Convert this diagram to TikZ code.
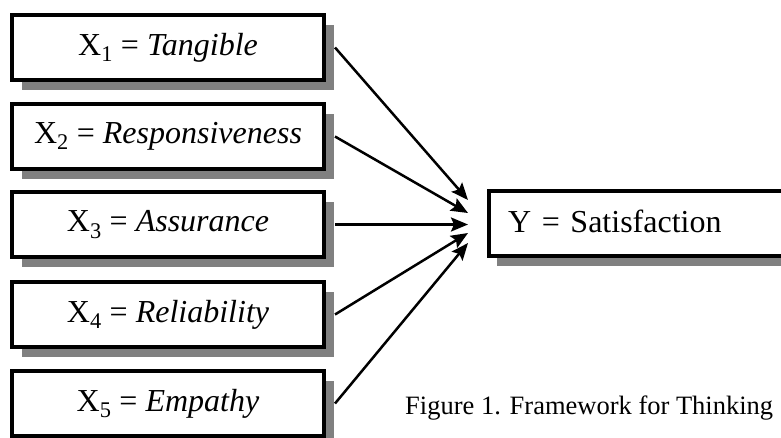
\documentclass[tikz,border=0pt]{standalone}
\usepackage{fontspec}
\setmainfont{Liberation Serif}
\usetikzlibrary{shadows,arrows.meta}
\definecolor{shadowgray}{HTML}{808080}
\begin{document}
\begin{tikzpicture}[x=1pt,y=-1pt,
  xbox/.style={draw=black, line width=4pt, fill=white, minimum width=312pt, minimum height=65pt,
    inner sep=0pt, font=\fontsize{32}{36}\selectfont,
    drop shadow={shadow xshift=10pt, shadow yshift=-10pt, fill=shadowgray, opacity=1}},
  ybox/.style={draw=black, line width=4pt, fill=white, minimum height=65pt, text width=273pt,
    inner xsep=19pt, inner ysep=0pt, align=left, text depth=4pt, font=\fontsize{32}{36}\selectfont,
    drop shadow={shadow xshift=8pt, shadow yshift=-10pt, fill=shadowgray, opacity=1}},
  arr/.style={line width=2.5pt, -{Stealth[length=17pt,width=14pt,inset=3pt]}},
  captext/.style={anchor=base west, inner sep=0pt, font=\fontsize{26.5}{30}\selectfont}]
\useasboundingbox (0,0) rectangle (781,437);
\clip (0,0) rectangle (781,437);
\node[xbox] (x1) at (168,47.5) {X\textsubscript{1} = \textit{Tangible}};
\node[xbox] (x2) at (168,136.5) {X\textsubscript{2} = \textit{Responsiveness}};
\node[xbox] (x3) at (168,224.5) {X\textsubscript{3} = \textit{Assurance}};
\node[xbox] (x4) at (168,314.5) {X\textsubscript{4} = \textit{Reliability}};
\node[xbox] (x5) at (168,403.5) {X\textsubscript{5} = \textit{Empathy}};
\node[ybox] (y) at (644.5,223.5) {Y = Satisfaction};
\coordinate (t1) at ([shift={(-19,-23.5)}]y.west);
\coordinate (t2) at ([shift={(-19,-10.5)}]y.west);
\coordinate (t3) at ([shift={(-19,1)}]y.west);
\coordinate (t4) at ([shift={(-19,9.5)}]y.west);
\coordinate (t5) at ([shift={(-19,19.5)}]y.west);
\draw[arr] ([xshift=9pt]x1.east) -- (t1);
\draw[arr] ([xshift=9pt]x2.east) -- (t2);
\draw[arr] ([xshift=9pt]x3.east) -- (t3);
\draw[arr] ([xshift=9pt]x4.east) -- (t4);
\draw[arr] ([xshift=9pt]x5.east) -- (t5);
\node[captext] (caption) at (405,414) {Figure 1. Framework for Thinking};
\end{tikzpicture}
\end{document}
